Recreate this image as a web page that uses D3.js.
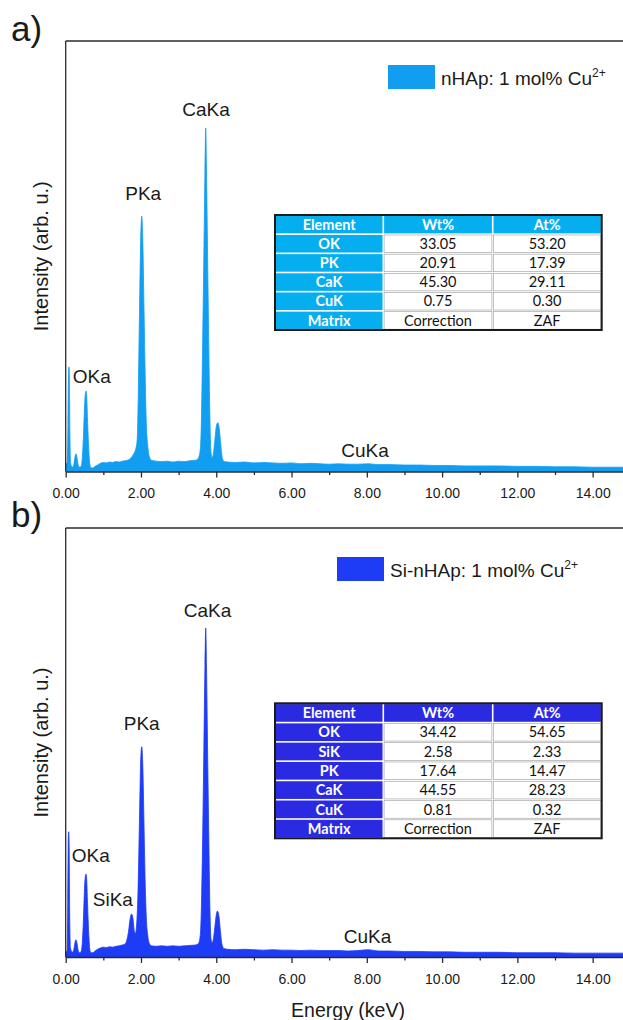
<!DOCTYPE html>
<html>
<head>
<meta charset="utf-8">
<script src="https://cdn.jsdelivr.net/npm/d3@7"></script>
<style>
  html, body { margin: 0; padding: 0; background: #fff; }
  svg { display: block; }
</style>
</head>
<body>
<div id="chart"></div>
<script>
// EDS spectra of Cu-doped nHAp and Si-nHAp, with elemental quantification tables.

// ---- Data -------------------------------------------------------------
const xMajorTicks = [0, 2, 4, 6, 8, 10, 12, 14];
const xMinorTicks = [1, 3, 5, 7, 9, 11, 13];

// Panel a: nHAp 1 mol% Cu2+
const energyA = [0.00,0.04,0.06,0.075,0.085,0.095,0.11,0.13,0.17,0.21,0.24,0.27,0.30,0.33,0.37,0.41,0.44,0.47,0.50,0.525,0.54,0.555,0.58,0.61,0.64,0.67,0.72,0.78,0.85,0.92,1.00,1.08,1.16,1.25,1.33,1.42,1.50,1.58,1.66,1.74,1.80,1.86,1.90,1.93,1.96,1.99,2.02,2.05,2.08,2.11,2.14,2.18,2.22,2.28,2.40,2.55,2.70,2.85,3.00,3.15,3.30,3.45,3.53,3.58,3.61,3.64,3.67,3.70,3.72,3.74,3.77,3.80,3.83,3.86,3.89,3.92,3.96,4.00,4.04,4.08,4.12,4.16,4.21,4.30,4.50,4.75,5.00,5.25,5.50,5.75,6.00,6.25,6.50,6.75,7.00,7.25,7.50,7.75,8.05,8.30,8.60,9.00,9.40,9.80,10.2,10.6,11.0,11.5,12.0,12.5,13.0,13.5,14.0,14.5,15.0];
const countsA = [18,20,110,230,243,230,100,20,10,14,30,41,32,16,10,12,30,80,150,183,187,180,120,55,18,9,8,12,15,19,21,20,22,21,23,22,24,25,27,32,40,52,75,190,370,530,593,530,380,230,115,60,35,26,24,23,24,22,24,23,25,26,32,55,140,310,500,700,798,700,500,300,130,45,32,40,70,104,113,100,62,32,23,22,21,22,20,21,20,19,20,18,19,18,17,18,17,17,18,16,16,15,15,14,14,13,13,13,12,12,11,11,10,10,10];

// Panel b: Si-nHAp 1 mol% Cu2+
const energyB = [0.00,0.04,0.055,0.07,0.08,0.09,0.105,0.125,0.17,0.21,0.24,0.27,0.30,0.33,0.37,0.41,0.44,0.47,0.50,0.525,0.54,0.555,0.58,0.61,0.64,0.67,0.72,0.78,0.85,0.92,1.00,1.08,1.16,1.25,1.33,1.42,1.50,1.57,1.62,1.67,1.71,1.75,1.79,1.82,1.85,1.88,1.92,1.96,1.99,2.02,2.05,2.08,2.11,2.14,2.18,2.22,2.28,2.40,2.55,2.70,2.85,3.00,3.15,3.30,3.45,3.53,3.58,3.61,3.64,3.67,3.70,3.72,3.74,3.77,3.80,3.83,3.86,3.89,3.92,3.96,4.00,4.03,4.07,4.11,4.15,4.20,4.30,4.50,4.75,5.00,5.25,5.50,5.75,6.00,6.25,6.50,6.75,7.00,7.25,7.50,7.75,8.05,8.30,8.60,9.00,9.40,9.80,10.2,10.6,11.0,11.5,12.0,12.5,13.0,13.5,14.0,14.5,15.0];
const countsB = [12,16,130,280,292,270,110,22,11,15,30,40,32,16,10,13,32,85,160,190,193,185,125,58,18,10,10,14,18,21,23,22,24,23,25,26,28,30,38,60,88,100,88,62,55,70,150,320,450,490,440,310,180,95,50,32,26,25,26,25,26,25,26,27,28,32,55,135,290,480,680,767,680,480,290,120,42,33,40,68,98,107,96,60,30,20,18,17,18,17,16,17,16,16,15,16,15,15,15,14,15,17,14,14,13,13,12,12,11,11,11,10,10,10,9,9,9,9];

// Peak annotations: [text, energy, level, anchor]
const peaksA = [["OKa", 0.186, 206, "start"], ["PKa", 2.06, 630, "middle"], ["CaKa", 3.73, 826, "middle"], ["CuKa", 7.95, 34, "middle"]];
const peaksB = [["OKa", 0.16, 222, "start"], ["SiKa", 0.72, 119, "start"], ["PKa", 2.02, 529, "middle"], ["CaKa", 3.77, 793, "middle"], ["CuKa", 8.02, 33, "middle"]];

// Quantification tables
const tableHeader = ["Element", "Wt%", "At%"];
const elementsA = ["OK", "PK", "CaK", "CuK", "Matrix"];
const wtA = ["33.05", "20.91", "45.30", "0.75", "Correction"];
const atA = ["53.20", "17.39", "29.11", "0.30", "ZAF"];
const elementsB = ["OK", "SiK", "PK", "CaK", "CuK", "Matrix"];
const wtB = ["34.42", "2.58", "17.64", "44.55", "0.81", "Correction"];
const atB = ["54.65", "2.33", "14.47", "28.23", "0.32", "ZAF"];

// ---- Layout -----------------------------------------------------------
const W = 623, H = 1020;
const svg = d3.select("#chart").append("svg").attr("width", W).attr("height", H);

const x = d3.scaleLinear().domain([0, 15]).range([65.7, 630.3]);

const panels = [
  { tag: "a)", tagY: 41, top: 41, bottom: 471.5, energy: energyA, counts: countsA, peaks: peaksA,
    color: "#129ef0", tableColor: "#05aeef", legend: "nHAp: 1 mol% Cu", legendX: 388, legendY: 65,
    elements: elementsA, wt: wtA, at: atA, tableTop: 215, tableBottom: 330 },
  { tag: "b)", tagY: 527, top: 528, bottom: 957, energy: energyB, counts: countsB, peaks: peaksB,
    color: "#1e3cf6", tableColor: "#2a2ae2", legend: "Si-nHAp: 1 mol% Cu", legendX: 337, legendY: 557,
    elements: elementsB, wt: wtB, at: atB, tableTop: 703.3, tableBottom: 838.3 }
];

const axisColor = "#2b2b2b";
const textFont = "'Liberation Sans', Arial, Helvetica, sans-serif";

panels.forEach(p => {
  const g = svg.append("g");
  const y = d3.scaleLinear().domain([0, 1000]).range([p.bottom, p.top]);
  const pts = p.energy.map((e, i) => [e, p.counts[i]]);

  // Spectrum
  const area = d3.area()
    .x(d => x(d[0]))
    .y0(y(0))
    .y1(d => y(d[1]))
    .curve(d3.curveMonotoneX);
  g.append("path").datum(pts)
    .attr("d", area)
    .attr("fill", p.color)
    .attr("stroke", p.color)
    .attr("stroke-width", 0.8);

  // Frame: left and top
  g.append("line").attr("x1", x(0)).attr("x2", x(0)).attr("y1", p.top).attr("y2", p.bottom)
    .attr("stroke", axisColor).attr("stroke-width", 1.3);
  g.append("line").attr("x1", x(0)).attr("x2", W + 10).attr("y1", p.top).attr("y2", p.top)
    .attr("stroke", axisColor).attr("stroke-width", 1.3);

  // Bottom axis, major ticks with labels
  const ax = g.append("g").attr("transform", `translate(0,${p.bottom})`)
    .call(d3.axisBottom(x).tickValues(xMajorTicks).tickFormat(d3.format(".2f"))
      .tickSize(6).tickSizeOuter(0).tickPadding(11));
  ax.select(".domain").attr("stroke", axisColor).attr("stroke-width", 1.3);
  ax.selectAll(".tick line").attr("stroke", axisColor).attr("stroke-width", 1.3);
  ax.selectAll(".tick text").attr("font-family", textFont).attr("font-size", 14).attr("fill", "#1a1a1a");

  // Minor ticks
  const mx = g.append("g").attr("transform", `translate(0,${p.bottom})`)
    .call(d3.axisBottom(x).tickValues(xMinorTicks).tickFormat("").tickSize(3.5).tickSizeOuter(0));
  mx.select(".domain").remove();
  mx.selectAll(".tick line").attr("stroke", axisColor).attr("stroke-width", 1.3);

  // Y label
  g.append("text")
    .attr("transform", `translate(47.5,${(p.top + p.bottom) / 2}) rotate(-90)`)
    .attr("text-anchor", "middle")
    .attr("font-family", textFont).attr("font-size", 20).attr("fill", "#1a1a1a")
    .text("Intensity (arb. u.)");

  // Panel tag
  g.append("text").attr("x", 11).attr("y", p.tagY)
    .attr("font-family", textFont).attr("font-size", 35).attr("fill", "#1a1a1a")
    .text(p.tag);

  // Peak labels
  g.selectAll("text.peak").data(p.peaks).join("text")
    .attr("class", "peak")
    .attr("x", d => x(d[1]))
    .attr("y", d => y(d[2]))
    .attr("text-anchor", d => d[3])
    .attr("font-family", textFont).attr("font-size", 19).attr("fill", "#1a1a1a")
    .text(d => d[0]);

  // Legend
  g.append("rect").attr("x", p.legendX).attr("y", p.legendY).attr("width", 47).attr("height", 24)
    .attr("fill", p.color);
  const lt = g.append("text").attr("x", p.legendX + 53).attr("y", p.legendY + 20)
    .attr("font-family", textFont).attr("font-size", 19).attr("fill", "#1a1a1a");
  lt.append("tspan").text(p.legend);
  lt.append("tspan").attr("font-size", 12).attr("dy", -8).text("2+");

  // Quantification table
  const colX = [275, 383.3, 492.7, 601.7];
  const rows = [tableHeader].concat(p.elements.map((e, i) => [e, p.wt[i], p.at[i]]));
  const rh = (p.tableBottom - p.tableTop) / rows.length;
  const tg = g.append("g");
  tg.append("rect").attr("x", colX[0]).attr("y", p.tableTop)
    .attr("width", colX[3] - colX[0]).attr("height", p.tableBottom - p.tableTop).attr("fill", "#fff");
  rows.forEach((r, ri) => {
    r.forEach((cell, ci) => {
      const blue = ri === 0 || ci === 0;
      const cx0 = colX[ci], cx1 = colX[ci + 1];
      const cy0 = p.tableTop + ri * rh;
      tg.append("rect")
        .attr("x", cx0 + 0.8).attr("y", cy0 + 0.8)
        .attr("width", cx1 - cx0 - 1.6).attr("height", rh - 1.6)
        .attr("fill", blue ? p.tableColor : "#fff")
        .attr("stroke", blue ? "none" : "#9a9a9a").attr("stroke-width", blue ? 0 : 0.6);
      tg.append("text")
        .attr("x", (cx0 + cx1) / 2).attr("y", cy0 + rh / 2 + 5.2)
        .attr("text-anchor", "middle")
        .attr("font-family", "Lato, 'Open Sans', sans-serif")
        .attr("font-size", 14.5)
        .attr("font-weight", blue ? 700 : 400)
        .attr("fill", blue ? "#fff" : "#111")
        .text(cell);
    });
  });
  tg.append("rect").attr("x", colX[0]).attr("y", p.tableTop)
    .attr("width", colX[3] - colX[0]).attr("height", p.tableBottom - p.tableTop)
    .attr("fill", "none").attr("stroke", "#1a1a1a").attr("stroke-width", 2);
});

// X axis title
svg.append("text").attr("x", 348).attr("y", 1016.5)
  .attr("text-anchor", "middle")
  .attr("font-family", textFont).attr("font-size", 19.5).attr("fill", "#1a1a1a")
  .text("Energy (keV)");
</script>
</body>
</html>
